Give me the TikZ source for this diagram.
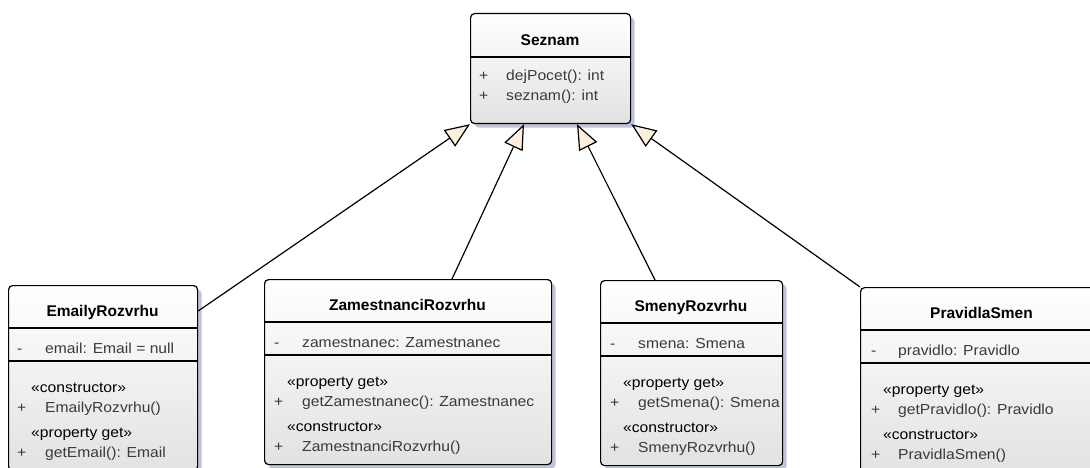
\documentclass[tikz,border=0pt]{standalone}
\usepackage{fontspec}
\setmainfont{Liberation Sans}
\newfontfamily\memberfont[FakeStretch=1.08]{Liberation Sans}
\usetikzlibrary{arrows.meta,shadows,calc}

\definecolor{textgray}{HTML}{3A3A3A}
\definecolor{shadowc}{HTML}{BEC3D8}
\definecolor{boxbottom}{HTML}{E2E2E2}
\definecolor{arrowfill}{HTML}{FCF0DC}

\tikzset{
  classbox/.style={draw=black, line width=1.2pt, rounded corners=4pt,
    top color=white, bottom color=boxbottom,
    drop shadow={shadow xshift=4pt, shadow yshift=-4pt, opacity=1, fill=shadowc},
    anchor=north west, inner sep=0pt},
  ctitle/.style={anchor=base, inner sep=0pt, text=black,
    font=\fontsize{15.5}{18}\selectfont\bfseries},
  member/.style={anchor=base west, inner sep=0pt, text=textgray,
    font=\fontsize{14.5}{16}\memberfont},
  stereo/.style={anchor=base west, inner sep=0pt, text=black,
    font=\fontsize{14.5}{16}\memberfont},
  sepline/.style={line width=1.2pt},
  gen/.style={line width=1.2pt, line join=round,
    -{Triangle[length=25pt, width=20pt, fill=arrowfill, line join=miter]}},
}

\begin{document}
\begin{tikzpicture}[x=1pt, y=-1pt]
\useasboundingbox (0,0) rectangle (1090,468);
\clip (0,0) rectangle (1090,468);

% ---------------- Seznam ----------------
\node[classbox, minimum width=160pt, minimum height=110pt] (seznam) at (470,13) {};
\node[ctitle] (seznamT) at ($(seznam.north west)+(80,33)$) {Seznam};
\draw[sepline] ($(seznam.north west)+(0,44)$) -- ($(seznam.north east)+(0,44)$);
\node[member] (seznamS1) at ($(seznam.north west)+(9,68)$) {+};
\node[member] (seznamM1) at ($(seznam.north west)+(36,68)$) {dejPocet(): int};
\node[member] (seznamS2) at ($(seznam.north west)+(9,88)$) {+};
\node[member] (seznamM2) at ($(seznam.north west)+(36,88)$) {seznam(): int};

% ---------------- EmailyRozvrhu ----------------
\node[classbox, minimum width=189pt, minimum height=185pt] (emaily) at (8,285) {};
\node[ctitle] (emailyT) at ($(emaily.north west)+(94.5,31)$) {EmailyRozvrhu};
\draw[sepline] ($(emaily.north west)+(0,43)$) -- ($(emaily.north east)+(0,43)$);
\node[member] (emailyA0) at ($(emaily.north west)+(9,68)$) {-};
\node[member] (emailyA1) at ($(emaily.north west)+(37,68)$) {email: Email = null};
\draw[sepline] ($(emaily.north west)+(0,76)$) -- ($(emaily.north east)+(0,76)$);
\node[stereo] (emailyC) at ($(emaily.north west)+(23,107)$) {«constructor»};
\node[member] (emailyS1) at ($(emaily.north west)+(9,127)$) {+};
\node[member] (emailyM1) at ($(emaily.north west)+(37,127)$) {EmailyRozvrhu()};
\node[stereo] (emailyP) at ($(emaily.north west)+(23,152)$) {«property get»};
\node[member] (emailyS2) at ($(emaily.north west)+(9,172)$) {+};
\node[member] (emailyM2) at ($(emaily.north west)+(37,172)$) {getEmail(): Email};

% ---------------- ZamestnanciRozvrhu ----------------
\node[classbox, minimum width=287pt, minimum height=185pt] (zam) at (264,279) {};
\node[ctitle] (zamT) at ($(zam.north west)+(143.5,31)$) {ZamestnanciRozvrhu};
\draw[sepline] ($(zam.north west)+(0,43)$) -- ($(zam.north east)+(0,43)$);
\node[member] (zamA0) at ($(zam.north west)+(10,68)$) {-};
\node[member] (zamA1) at ($(zam.north west)+(38,68)$) {zamestnanec: Zamestnanec};
\draw[sepline] ($(zam.north west)+(0,76)$) -- ($(zam.north east)+(0,76)$);
\node[stereo] (zamP) at ($(zam.north west)+(23,107)$) {«property get»};
\node[member] (zamS1) at ($(zam.north west)+(10,127)$) {+};
\node[member] (zamM1) at ($(zam.north west)+(38,127)$) {getZamestnanec(): Zamestnanec};
\node[stereo] (zamC) at ($(zam.north west)+(23,152)$) {«constructor»};
\node[member] (zamS2) at ($(zam.north west)+(10,172)$) {+};
\node[member] (zamM2) at ($(zam.north west)+(38,172)$) {ZamestnanciRozvrhu()};

% ---------------- SmenyRozvrhu ----------------
\node[classbox, minimum width=182pt, minimum height=185pt] (smeny) at (600,280) {};
\node[ctitle] (smenyT) at ($(smeny.north west)+(91,31)$) {SmenyRozvrhu};
\draw[sepline] ($(smeny.north west)+(0,43)$) -- ($(smeny.north east)+(0,43)$);
\node[member] (smenyA0) at ($(smeny.north west)+(10,68)$) {-};
\node[member] (smenyA1) at ($(smeny.north west)+(38,68)$) {smena: Smena};
\draw[sepline] ($(smeny.north west)+(0,76)$) -- ($(smeny.north east)+(0,76)$);
\node[stereo] (smenyP) at ($(smeny.north west)+(23,107)$) {«property get»};
\node[member] (smenyS1) at ($(smeny.north west)+(10,127)$) {+};
\node[member] (smenyM1) at ($(smeny.north west)+(38,127)$) {getSmena(): Smena};
\node[stereo] (smenyC) at ($(smeny.north west)+(23,152)$) {«constructor»};
\node[member] (smenyS2) at ($(smeny.north west)+(10,172)$) {+};
\node[member] (smenyM2) at ($(smeny.north west)+(38,172)$) {SmenyRozvrhu()};

% ---------------- PravidlaSmen ----------------
\node[classbox, minimum width=243pt, minimum height=185pt] (pravidla) at (860,287) {};
\node[ctitle] (pravidlaT) at ($(pravidla.north west)+(121.5,31)$) {PravidlaSmen};
\draw[sepline] ($(pravidla.north west)+(0,43)$) -- ($(pravidla.north east)+(0,43)$);
\node[member] (pravidlaA0) at ($(pravidla.north west)+(11,68)$) {-};
\node[member] (pravidlaA1) at ($(pravidla.north west)+(38,68)$) {pravidlo: Pravidlo};
\draw[sepline] ($(pravidla.north west)+(0,76)$) -- ($(pravidla.north east)+(0,76)$);
\node[stereo] (pravidlaP) at ($(pravidla.north west)+(23,107)$) {«property get»};
\node[member] (pravidlaS1) at ($(pravidla.north west)+(11,127)$) {+};
\node[member] (pravidlaM1) at ($(pravidla.north west)+(38,127)$) {getPravidlo(): Pravidlo};
\node[stereo] (pravidlaC) at ($(pravidla.north west)+(23,152)$) {«constructor»};
\node[member] (pravidlaS2) at ($(pravidla.north west)+(11,172)$) {+};
\node[member] (pravidlaM2) at ($(pravidla.north west)+(38,172)$) {PravidlaSmen()};

% ---------------- generalizations ----------------
\draw[gen] ($(emaily.north east)+(0,26)$) -- (seznam.south west);
\draw[gen] ($(zam.north west)+(188,0)$) -- ($(seznam.south west)+(54,0)$);
\draw[gen] ($(smeny.north west)+(55,0)$) -- ($(seznam.south west)+(107,0)$);
\draw[gen] (pravidla.north west) -- (seznam.south east);
\end{tikzpicture}
\end{document}
